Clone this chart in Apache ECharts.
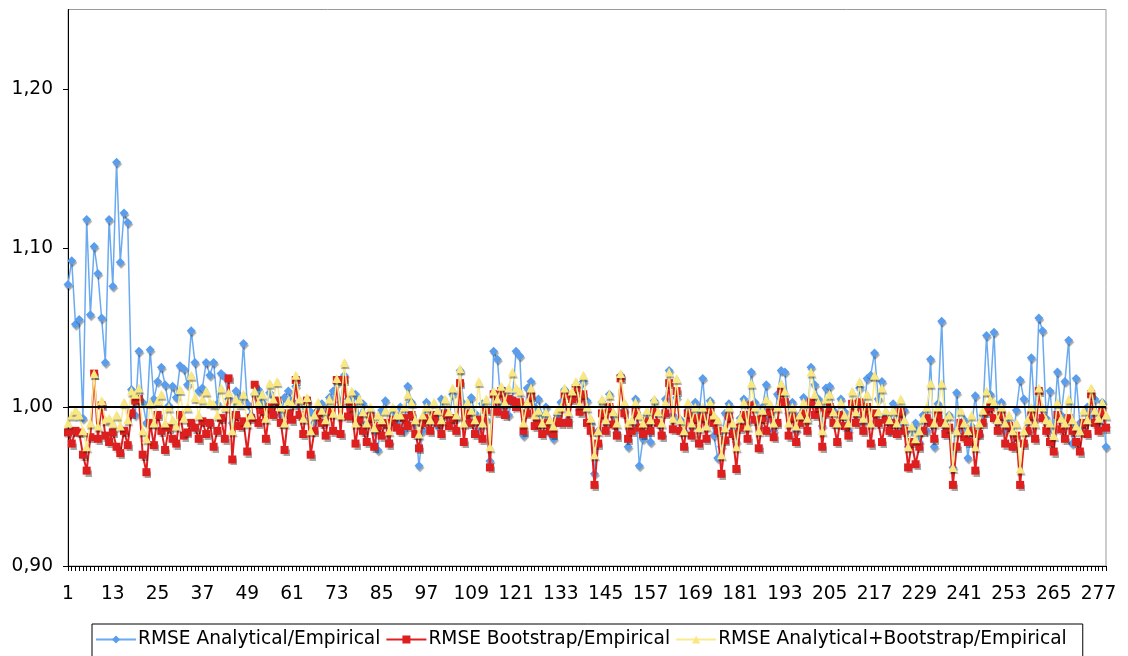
<!DOCTYPE html>
<html>
<head>
<meta charset="utf-8">
<script src="https://cdn.jsdelivr.net/npm/echarts@6/dist/echarts.min.js"></script>
<style>
html,body{margin:0;padding:0;background:#fff;}
#chart{width:1128px;height:656px;}
</style>
</head>
<body>
<div id="chart"></div>
<script>
const yTicks = [0.9, 1.0, 1.1, 1.2];
const seriesNames = ['RMSE Analytical/Empirical', 'RMSE Bootstrap/Empirical', 'RMSE Analytical+Bootstrap/Empirical'];
const analytical = [
1.077,1.092,1.052,1.055,0.993,1.118,1.058,1.101,1.084,1.056,1.028,1.118,1.076,1.154,1.091,1.122,1.116,1.011,0.995,1.035,
1.003,0.990,1.036,1.005,1.016,1.025,1.014,1.001,1.013,1.006,1.026,1.024,1.014,1.048,1.028,1.010,1.012,1.028,1.020,1.028,
1.002,1.021,1.019,1.005,0.990,1.010,1.005,1.040,1.002,0.995,1.008,1.011,1.003,0.999,1.009,1.002,1.004,0.995,1.006,1.010,
1.004,1.013,1.000,0.993,1.003,0.997,0.990,0.998,1.002,0.995,1.006,1.010,1.015,1.003,1.020,1.005,0.997,1.008,0.994,1.002,
0.990,0.996,0.985,0.973,0.998,1.004,0.978,0.995,0.990,1.000,0.985,1.013,1.003,0.990,0.963,0.985,1.003,0.993,0.995,0.988,
1.005,0.997,0.992,1.008,0.993,1.023,1.002,0.990,1.006,0.996,0.986,1.002,0.992,0.966,1.035,1.030,1.000,1.010,0.995,1.005,
1.035,1.032,0.982,1.012,1.016,1.000,1.005,0.994,1.000,0.984,0.980,0.995,1.003,1.011,0.992,1.006,1.013,0.998,1.016,1.004,
0.990,0.958,0.985,1.003,0.990,1.008,0.995,0.984,1.020,0.998,0.975,0.988,1.005,0.963,0.980,0.995,0.978,1.004,0.990,0.983,
1.005,1.023,0.995,1.006,0.992,0.985,0.998,0.988,1.003,0.995,1.018,0.990,1.004,0.982,0.968,0.975,0.996,1.002,0.985,0.978,
0.993,1.005,0.990,1.022,1.003,0.988,1.000,1.014,0.993,0.985,1.008,1.023,1.022,0.996,1.003,0.985,0.995,1.006,0.992,1.025,
1.014,1.005,0.988,1.012,1.013,0.998,0.990,1.005,0.997,0.985,1.003,0.995,1.012,0.990,1.018,1.020,1.034,1.005,1.016,0.995,
0.985,1.002,0.993,0.988,0.998,0.975,0.985,0.990,0.978,0.995,0.985,1.030,0.975,1.002,1.054,0.985,0.995,0.962,1.009,0.985,
0.992,0.968,0.988,1.007,0.983,0.995,1.045,1.008,1.047,0.990,1.003,0.985,0.990,0.976,0.998,1.017,1.005,0.985,1.031,0.992,
1.056,1.048,0.993,1.010,0.985,1.022,0.995,1.016,1.042,0.977,1.018,0.990,0.985,1.000,0.995,1.005,0.990,1.003,0.975
];
const bootstrap = [
0.984,0.977,0.985,0.984,0.970,0.960,0.981,1.021,0.980,1.001,0.982,0.978,0.984,0.975,0.971,0.985,0.976,0.996,1.004,1.005,
0.970,0.959,0.990,0.976,0.995,0.985,0.973,0.987,0.980,0.977,0.995,0.982,0.984,0.990,0.987,0.980,0.991,0.983,0.990,0.975,
0.985,0.993,0.980,1.018,0.967,0.995,0.988,0.991,0.972,0.993,1.014,0.990,0.998,0.980,1.000,0.995,1.004,0.990,0.973,0.996,
0.992,1.017,0.995,0.983,1.004,0.970,0.985,0.996,0.990,0.982,0.998,0.985,1.017,0.983,1.017,0.994,1.000,0.977,0.992,0.985,
0.978,0.994,0.975,0.988,0.982,0.990,0.977,0.992,0.987,0.985,0.993,0.988,0.995,0.983,0.974,0.990,0.993,0.985,0.995,0.990,
0.983,0.996,0.988,0.993,0.985,1.015,0.978,0.996,0.990,0.983,0.992,0.980,0.998,0.962,1.008,0.997,1.010,0.995,1.005,1.004,
1.000,1.003,0.985,0.996,1.007,0.988,0.990,0.983,0.990,0.985,0.983,0.991,0.990,1.008,0.990,1.005,1.012,0.997,1.008,0.990,
0.985,0.951,0.977,0.996,0.985,1.000,0.989,0.982,1.018,0.996,0.980,0.985,0.997,0.987,0.983,0.991,0.985,0.998,0.990,0.982,
0.996,1.015,0.986,1.010,0.985,0.975,0.996,0.982,0.993,0.977,0.994,0.980,0.998,0.990,0.985,0.958,0.979,0.994,0.983,0.961,
0.987,0.995,0.980,1.001,0.992,0.974,0.993,0.985,0.997,0.981,0.990,1.010,1.003,0.982,0.994,0.978,0.990,0.996,0.985,1.003,
0.995,1.000,0.975,0.996,1.000,0.990,0.978,0.995,0.988,0.982,1.002,0.990,1.003,0.985,1.000,0.977,0.996,0.990,0.978,0.992,
0.985,0.990,0.983,0.997,0.985,0.962,0.978,0.964,0.975,0.985,0.993,0.990,0.980,0.995,0.990,0.983,0.987,0.951,0.975,0.990,
0.981,0.978,0.985,0.960,0.983,0.990,0.997,1.000,0.993,0.985,0.995,0.977,0.988,0.975,0.982,0.951,0.977,0.985,0.995,0.980,
1.010,0.993,0.985,0.978,0.972,0.995,0.986,0.980,0.993,0.985,0.978,0.972,0.990,0.983,1.008,0.990,0.985,0.997,0.987
];
const combined = [
0.990,0.995,0.998,0.995,0.985,0.975,0.990,1.021,0.988,1.004,0.992,0.993,0.990,0.995,0.988,1.003,0.992,1.010,1.008,1.012,
0.985,0.980,1.003,0.990,1.004,1.008,0.990,1.000,0.992,0.988,1.011,0.993,1.000,1.020,1.006,0.995,1.005,1.010,1.003,1.002,
0.995,1.012,1.000,1.009,0.985,1.005,1.002,1.008,0.990,0.995,1.010,1.003,1.008,0.993,1.015,1.005,1.016,1.000,0.990,1.004,
1.002,1.020,1.005,0.993,1.006,0.985,0.995,1.003,0.998,0.992,1.005,0.996,1.018,0.995,1.028,1.005,1.010,0.990,1.005,0.997,
0.990,1.000,0.987,0.995,0.992,0.998,0.985,1.000,0.995,0.995,1.000,1.008,1.003,0.992,0.983,0.995,1.000,0.992,1.003,0.998,
0.992,1.005,0.997,1.012,0.995,1.024,0.990,1.003,0.998,0.992,1.016,0.990,1.005,0.975,1.010,1.005,1.013,1.003,1.012,1.022,
1.012,1.010,0.990,1.003,1.012,0.995,0.998,0.990,0.997,0.992,0.988,0.998,1.000,1.012,0.997,1.010,1.016,1.002,1.020,1.000,
0.993,0.970,0.985,1.005,0.992,1.008,0.997,0.990,1.021,1.003,0.990,0.992,1.003,0.995,0.990,0.998,0.992,1.005,0.997,0.990,
1.003,1.022,0.993,1.018,0.992,0.985,1.003,0.990,1.000,0.987,1.000,0.988,1.003,0.995,0.992,0.970,0.987,1.000,0.990,0.975,
0.993,1.003,0.988,1.015,1.000,0.985,0.998,1.005,1.002,0.990,1.000,1.015,1.010,0.990,1.000,0.988,0.995,1.003,0.993,1.022,
1.008,1.003,0.985,1.005,1.008,0.997,0.990,1.003,0.995,0.990,1.010,0.997,1.016,0.993,1.008,0.990,1.020,0.997,1.012,0.998,
0.992,0.998,0.990,1.005,0.992,0.975,0.988,0.980,0.985,0.993,1.000,1.015,0.990,1.000,1.015,0.990,0.995,0.962,0.985,0.998,
0.990,0.985,0.995,0.975,0.990,0.998,1.010,1.005,1.003,0.992,1.000,0.990,0.995,0.985,0.990,0.961,0.985,0.992,1.000,0.990,
1.012,1.000,0.992,0.990,0.982,1.003,0.993,0.990,1.005,0.992,0.988,0.985,0.998,0.992,1.012,0.998,0.993,1.003,0.995
];
const categories = analytical.map((_, i) => String(i + 1));

const FONT = 'DejaVu Sans';
const FS = 18.6;
const shadow = {shadowColor: 'rgba(0,0,0,0.35)', shadowBlur: 1, shadowOffsetX: 1, shadowOffsetY: 2};

const chart = echarts.init(document.getElementById('chart'), null, {renderer: 'canvas'});
chart.setOption({
  animation: false,
  backgroundColor: '#fff',
  textStyle: {fontFamily: FONT, color: '#000'},
  grid: {left: 68, right: 22, top: 9.5, bottom: 90, show: true, borderColor: '#999', borderWidth: 1},
  legend: {
    top: 624, left: 92,
    borderColor: '#000', borderWidth: 1,
    padding: [6, 16, 8, 3],
    itemWidth: 40, itemHeight: 10, itemGap: 5,
    textStyle: {fontFamily: FONT, fontSize: FS, color: '#000', padding: [0, 0, 0, -3]},
    data: seriesNames
  },
  xAxis: {
    type: 'category', data: categories, boundaryGap: false,
    axisLine: {lineStyle: {color: '#000', width: 1}},
    axisTick: {show: true, interval: 0, length: 5, lineStyle: {color: '#000'}},
    axisLabel: {interval: 11, fontFamily: FONT, fontSize: FS, color: '#000', margin: 19},
    splitLine: {show: false}
  },
  yAxis: {
    type: 'value', min: 0.9, max: 1.25, interval: 0.1,
    axisLine: {show: true, lineStyle: {color: '#000', width: 1}},
    axisTick: {show: true, length: 5, lineStyle: {color: '#000'}, customValues: yTicks},
    axisLabel: {fontFamily: FONT, fontSize: FS, color: '#000', margin: 15, customValues: yTicks,
      formatter: v => v.toFixed(2).replace('.', ',')},
    splitLine: {show: false}
  },
  series: [
    {
      name: seriesNames[0], type: 'line', data: analytical,
      symbol: 'diamond', symbolSize: 9, showAllSymbol: true,
      lineStyle: {color: '#6aaaf0', width: 1.5},
      itemStyle: Object.assign({color: '#5a9ded'}, shadow),
      z: 2
    },
    {
      name: seriesNames[1], type: 'line', data: bootstrap,
      symbol: 'rect', symbolSize: 8, showAllSymbol: true,
      lineStyle: {color: '#e02020', width: 2},
      itemStyle: Object.assign({color: '#dd1f1f'}, shadow),
      z: 3
    },
    {
      name: seriesNames[2], type: 'line', data: combined,
      symbol: 'triangle', symbolSize: 9, showAllSymbol: true,
      lineStyle: {color: '#fbeb8f', width: 1.5},
      itemStyle: Object.assign({color: '#f9e880'}, shadow),
      z: 4,
      markLine: {
        silent: true, symbol: 'none', label: {show: false},
        lineStyle: {color: '#000', width: 2, type: 'solid'},
        data: [{yAxis: 1.0}]
      }
    }
  ]
});
</script>
</body>
</html>
